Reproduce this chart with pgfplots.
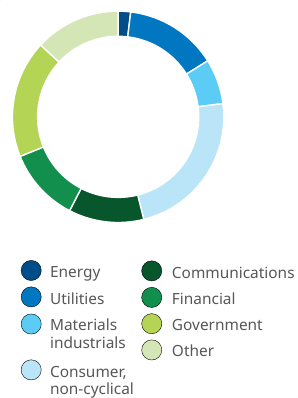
\documentclass[border=0pt]{standalone}
\usepackage{pgfplots}
\pgfplotsset{compat=1.18}
\usepackage{pgfplotstable}
\usepackage{fontspec}
\setmainfont{Noto Sans}
\definecolor{cEnergy}{HTML}{004E89}
\definecolor{cUtil}{HTML}{0077C0}
\definecolor{cMat}{HTML}{5BCCF6}
\definecolor{cCons}{HTML}{BAE5F8}
\definecolor{cComm}{HTML}{07562C}
\definecolor{cFin}{HTML}{128E4D}
\definecolor{cGov}{HTML}{B3D455}
\definecolor{cOther}{HTML}{D4E6B5}
\definecolor{txt}{HTML}{575757}
\pgfplotstableread{
name value col
Energy 1.9 cEnergy
Utilities 14.2 cUtil
Materials 6.9 cMat
Consumer 23.1 cCons
Communications 11.5 cComm
Financial 11.3 cFin
Government 18.0 cGov
Other 13.1 cOther
}\slices
\begin{document}
\begin{tikzpicture}
\begin{axis}[hide axis, scale only axis, width=298pt, height=398pt,
  xmin=0, xmax=298, ymin=0, ymax=398, clip=false]
% faint corner marks keep the page margins
\fill[white!96!black] (axis cs:0,397.2) rectangle (axis cs:0.8,398);
\fill[white!96!black] (axis cs:297.2,0) rectangle (axis cs:298,0.8);
\def\cum{0}
\pgfplotsforeachungrouped \i in {0,...,7}{%
  \pgfplotstablegetelem{\i}{value}\of\slices \let\sliceval\pgfplotsretval
  \pgfplotstablegetelem{\i}{col}\of\slices \let\slicecol\pgfplotsretval
  \pgfmathsetmacro\aone{90-3.6*\cum}%
  \pgfmathsetmacro\atwo{90-3.6*(\cum+\sliceval)}%
  \edef\temp{\noexpand\fill[\slicecol, draw=white, line width=1.4pt] ([shift={(\aone:106pt)}]axis cs:118.5,280.8) arc[start angle=\aone, end angle=\atwo, radius=106pt] -- ([shift={(\atwo:80.8pt)}]axis cs:118.5,280.8) arc[start angle=\atwo, end angle=\aone, radius=80.8pt] -- cycle;}%
  \temp
  \pgfmathsetmacro\cum{\cum+\sliceval}%
}
% legend markers
\addplot[only marks, mark=*, mark size=10.1pt, mark options={draw=none, fill=cEnergy}] coordinates {(31.3,126.7)};
\addplot[only marks, mark=*, mark size=10.1pt, mark options={draw=none, fill=cUtil}] coordinates {(31.3,100.2)};
\addplot[only marks, mark=*, mark size=10.1pt, mark options={draw=none, fill=cMat}] coordinates {(31.3,73)};
\addplot[only marks, mark=*, mark size=10.1pt, mark options={draw=none, fill=cCons}] coordinates {(31.3,27)};
\addplot[only marks, mark=*, mark size=10.1pt, mark options={draw=none, fill=cComm}] coordinates {(152.2,126.3)};
\addplot[only marks, mark=*, mark size=10.1pt, mark options={draw=none, fill=cFin}] coordinates {(152.2,99.7)};
\addplot[only marks, mark=*, mark size=10.1pt, mark options={draw=none, fill=cGov}] coordinates {(152.2,73.3)};
\addplot[only marks, mark=*, mark size=10.1pt, mark options={draw=none, fill=cOther}] coordinates {(152.2,47)};
\begin{scope}[every node/.style={anchor=base west, inner sep=0pt, text=txt, font=\fontsize{15.45}{17.7}\selectfont}]
\node at (axis cs:50,119.5) {Energy};
\node at (axis cs:50,92.5) {Utilities};
\node at (axis cs:50,66) {Materials};
\node at (axis cs:50,48.7) {industrials};
\node at (axis cs:50,19.7) {Consumer,};
\node at (axis cs:50,2.5) {non-cyclical};
\node at (axis cs:172.3,119) {Communications};
\node at (axis cs:172.3,92.3) {Financial};
\node at (axis cs:172.3,66.3) {Government};
\node at (axis cs:172.3,40.3) {Other};
\end{scope}
\end{axis}
\end{tikzpicture}
\end{document}
